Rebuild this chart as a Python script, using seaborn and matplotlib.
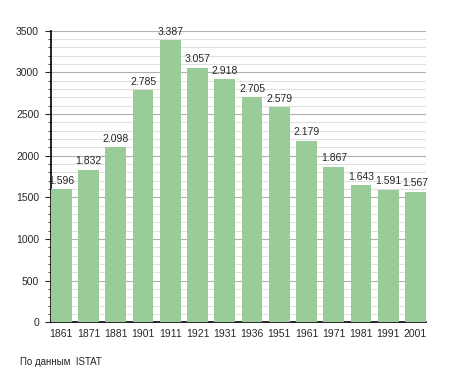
import pandas as pd
import matplotlib
matplotlib.use("Agg")
import matplotlib.pyplot as plt
import seaborn as sns
from matplotlib.ticker import MultipleLocator

years = ['1861', '1871', '1881', '1901', '1911', '1921', '1931', '1936',
         '1951', '1961', '1971', '1981', '1991', '2001']
population = [1596, 1832, 2098, 2785, 3387, 3057, 2918, 2705,
              2579, 2179, 1867, 1643, 1591, 1567]
labels = ['1.596', '1.832', '2.098', '2.785', '3.387', '3.057', '2.918', '2.705',
          '2.579', '2.179', '1.867', '1.643', '1.591', '1.567']

df = pd.DataFrame({'Anno': years, 'Abitanti': population})

sns.set_style("white")
plt.rcParams['font.family'] = ['Liberation Sans', 'DejaVu Sans']

bar_w = 0.76
fig = plt.figure(figsize=(4.55, 3.73), dpi=100)
ax = fig.add_axes([0.112, 0.136, 0.824, 0.782])

sns.barplot(x='Anno', y='Abitanti', data=df, color='#99cc99', width=bar_w,
            saturation=1, linewidth=0, ax=ax, zorder=3)

ax.set_ylim(0, 3500)
ax.set_xlim(-bar_w / 2, len(years) - 1 + bar_w / 2)
ax.yaxis.set_major_locator(MultipleLocator(500))
ax.yaxis.set_minor_locator(MultipleLocator(100))
ax.grid(axis='y', which='major', color='#b0b0b0', linewidth=0.8, zorder=0)
ax.grid(axis='y', which='minor', color='#e0e0e0', linewidth=0.8, zorder=0)
ax.set_axisbelow(True)

for s in ['top', 'right']:
    ax.spines[s].set_visible(False)
ax.spines['left'].set_color('black')
ax.spines['bottom'].set_color('black')
ax.spines['left'].set_linewidth(1.2)
ax.spines['bottom'].set_linewidth(1.2)

ax.tick_params(axis='y', which='major', left=True, length=4.5, width=0.8, labelsize=7.5, pad=4)
ax.tick_params(axis='y', which='minor', left=True, length=2.5, width=0.6)
ax.tick_params(axis='x', bottom=False, labelsize=7.5, pad=1.5)
ax.set_xlabel('')
ax.set_ylabel('')

for i, (v, lab) in enumerate(zip(population, labels)):
    ax.text(i, v + 40, lab, ha='center', va='bottom', fontsize=7.5)

fig.text(0.044, 0.03, 'По данным  ISTAT', fontsize=7, ha='left', va='center')

fig.savefig('out.png', dpi=100)
